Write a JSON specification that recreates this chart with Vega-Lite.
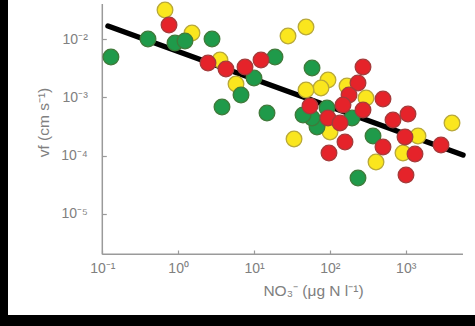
{
  "$schema": "https://vega.github.io/schema/vega-lite/v6.json",
  "width": 467,
  "height": 315,
  "autosize": {"type": "none"},
  "padding": {"left": 8, "top": 0, "right": 0, "bottom": 11},
  "background": "black",
  "config": {
    "view": {"fill": "white", "stroke": null},
    "font": "Liberation Sans",
    "axis": {"grid": false, "domain": false, "labelFont": "Liberation Sans", "titleFont": "Liberation Sans", "labelColor": "#808080", "titleColor": "#808080", "tickColor": "#9a9a9a", "tickWidth": 1.2, "labelFontSize": 14, "titleFontSize": 15.5, "titleFontWeight": "normal"}
  },
  "layer": [
    {
      "data": {"values": [{}]},
      "mark": {"type": "rule", "color": "#9a9a9a", "strokeWidth": 1.5},
      "encoding": {
        "x": {"datum": 0.1, "type": "quantitative", "scale": {"type": "log", "domain": [0.005711, 8196], "nice": false}},
        "x2": {"datum": 5689},
        "y": {"datum": 2.02e-6, "type": "quantitative", "scale": {"type": "log", "domain": [1.832e-7, 0.04734], "nice": false}}
      }
    },
    {
      "data": {"values": [{}]},
      "mark": {"type": "rule", "color": "#9a9a9a", "strokeWidth": 1.5},
      "encoding": {
        "x": {"datum": 0.1, "type": "quantitative", "scale": {"type": "log", "domain": [0.005711, 8196], "nice": false}},
        "y": {"datum": 2.02e-6, "type": "quantitative", "scale": {"type": "log", "domain": [1.832e-7, 0.04734], "nice": false}},
        "y2": {"datum": 0.0404}
      }
    },
    {
      "data": {"values": [{"x": 0.1189, "y": 0.01693}, {"x": 5689, "y": 0.0001028}]},
      "mark": {"type": "line", "color": "black", "strokeWidth": 5.5, "strokeCap": "round"},
      "encoding": {
        "x": {"field": "x", "type": "quantitative", "scale": {"type": "log", "domain": [0.005711, 8196], "nice": false}},
        "y": {"field": "y", "type": "quantitative", "scale": {"type": "log", "domain": [1.832e-7, 0.04734], "nice": false}}
      }
    },
    {
      "data": {"values": [
        {"x": 0.671, "y": 0.0319, "c": "yellow"},
        {"x": 1.522, "y": 0.01283, "c": "yellow"},
        {"x": 3.562, "y": 0.00441, "c": "yellow"},
        {"x": 5.79, "y": 0.001706, "c": "yellow"},
        {"x": 28.08, "y": 0.0114, "c": "yellow"},
        {"x": 48.5, "y": 0.01627, "c": "yellow"},
        {"x": 94.5, "y": 0.002, "c": "yellow"},
        {"x": 76.4, "y": 0.001456, "c": "yellow"},
        {"x": 48.5, "y": 0.001346, "c": "yellow"},
        {"x": 168.3, "y": 0.001576, "c": "yellow"},
        {"x": 299.7, "y": 0.00098, "c": "yellow"},
        {"x": 33.7, "y": 0.0001936, "c": "yellow"},
        {"x": 406, "y": 0.000078, "c": "yellow"},
        {"x": 921, "y": 0.0001113, "c": "yellow"},
        {"x": 1453, "y": 0.000218, "c": "yellow"},
        {"x": 4078, "y": 0.000365, "c": "yellow"},
        {"x": 100.5, "y": 0.000255, "c": "yellow"},
        {"x": 0.13, "y": 0.00497, "c": "green"},
        {"x": 0.4004, "y": 0.0101, "c": "green"},
        {"x": 0.909, "y": 0.00864, "c": "green"},
        {"x": 1.231, "y": 0.00935, "c": "green"},
        {"x": 2.795, "y": 0.0101, "c": "green"},
        {"x": 3.784, "y": 0.000687, "c": "green"},
        {"x": 6.74, "y": 0.001104, "c": "green"},
        {"x": 10.0, "y": 0.00216, "c": "green"},
        {"x": 14.84, "y": 0.000542, "c": "green"},
        {"x": 18.92, "y": 0.00497, "c": "green"},
        {"x": 58.2, "y": 0.00321, "c": "green"},
        {"x": 67.7, "y": 0.000311, "c": "green"},
        {"x": 58.2, "y": 0.000445, "c": "green"},
        {"x": 91.7, "y": 0.000661, "c": "green"},
        {"x": 195.9, "y": 0.000445, "c": "green"},
        {"x": 44.3, "y": 0.0005, "c": "green"},
        {"x": 370.7, "y": 0.000218, "c": "green"},
        {"x": 235, "y": 0.0000414, "c": "green"},
        {"x": 0.758, "y": 0.0176, "c": "red"},
        {"x": 2.475, "y": 0.00392, "c": "red"},
        {"x": 4.27, "y": 0.00309, "c": "red"},
        {"x": 7.61, "y": 0.00334, "c": "red"},
        {"x": 12.37, "y": 0.00441, "c": "red"},
        {"x": 273.5, "y": 0.00334, "c": "red"},
        {"x": 235, "y": 0.001775, "c": "red"},
        {"x": 178.9, "y": 0.001104, "c": "red"},
        {"x": 54.7, "y": 0.000714, "c": "red"},
        {"x": 149.1, "y": 0.000743, "c": "red"},
        {"x": 94.5, "y": 0.000445, "c": "red"},
        {"x": 136.1, "y": 0.000365, "c": "red"},
        {"x": 273.5, "y": 0.00061, "c": "red"},
        {"x": 501.9, "y": 0.000942, "c": "red"},
        {"x": 680, "y": 0.000411, "c": "red"},
        {"x": 1072, "y": 0.000521, "c": "red"},
        {"x": 979, "y": 0.00021, "c": "red"},
        {"x": 2920, "y": 0.0001527, "c": "red"},
        {"x": 501.9, "y": 0.0001411, "c": "red"},
        {"x": 1326, "y": 0.000107, "c": "red"},
        {"x": 158.4, "y": 0.0001719, "c": "red"},
        {"x": 97.4, "y": 0.0001113, "c": "red"},
        {"x": 1009, "y": 0.0000466, "c": "red"}
      ]},
      "mark": {"type": "point", "shape": "circle", "filled": true, "size": 245, "strokeWidth": 1.3, "opacity": 1},
      "encoding": {
        "x": {
          "field": "x", "type": "quantitative",
          "scale": {"type": "log", "domain": [0.005711, 8196], "nice": false},
          "axis": {
            "orient": "bottom", "offset": -61, "values": [0.1, 1, 10, 100, 1000],
            "labelExpr": "datum.value < 0.5 ? '10⁻¹' : datum.value < 5 ? '10⁰' : datum.value < 50 ? '10¹' : datum.value < 500 ? '10²' : '10³'",
            "tickSize": -4, "labelPadding": 11,
            "title": "NO₃⁻ (μg N l⁻¹)", "titleX": 305, "titleY": 36, "titleBaseline": "middle", "titleAlign": "center"
          }
        },
        "y": {
          "field": "y", "type": "quantitative",
          "scale": {"type": "log", "domain": [1.832e-7, 0.04734], "nice": false},
          "axis": {
            "orient": "left", "offset": -94.3, "values": [0.00001, 0.0001, 0.001, 0.01],
            "labelExpr": "datum.value < 0.00005 ? '10⁻⁵' : datum.value < 0.0005 ? '10⁻⁴' : datum.value < 0.005 ? '10⁻³' : '10⁻²'",
            "tickSize": -4, "labelPadding": 19,
            "title": "vf (cm s⁻¹)", "titleX": -59, "titleY": 122, "titleBaseline": "middle", "titleAlign": "center", "titleAngle": 270
          }
        },
        "fill": {"field": "c", "type": "nominal", "scale": {"domain": ["yellow", "green", "red"], "range": ["#fae61e", "#1f9a4a", "#e5232a"]}, "legend": null},
        "stroke": {"field": "c", "type": "nominal", "scale": {"domain": ["yellow", "green", "red"], "range": ["#b8a838", "#3f7a3a", "#a63a3a"]}, "legend": null}
      }
    }
  ]
}
